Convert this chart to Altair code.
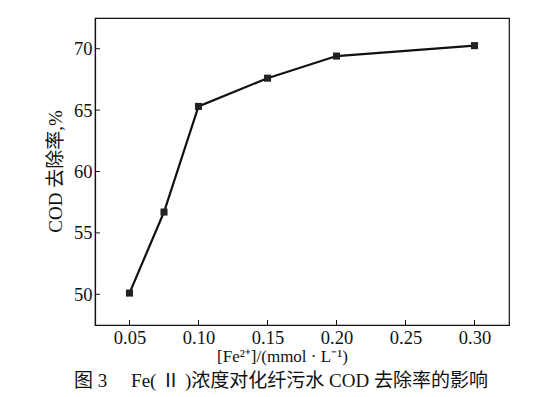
import altair as alt
import pandas as pd

conc = [0.05, 0.075, 0.10, 0.15, 0.20, 0.30]
cod_removal = [50.1, 56.7, 65.3, 67.6, 69.4, 70.25]
x_ticks = [0.05, 0.10, 0.15, 0.20, 0.25, 0.30]
y_ticks = [50, 55, 60, 65, 70]

FONT = "Liberation Serif, Times New Roman, Noto Sans CJK SC"

df = pd.DataFrame({"conc": conc, "cod": cod_removal})
dfx = pd.DataFrame({"t": x_ticks})
dfy = pd.DataFrame({"t": y_ticks})

W, H = 414, 307
xs = alt.Scale(domain=[0.025, 0.325], nice=False, zero=False)
ys = alt.Scale(domain=[47.5, 72.5], nice=False, zero=False)

line = alt.Chart(df).mark_line(color="#111", strokeWidth=2.2).encode(
    x=alt.X("conc:Q", scale=xs,
            axis=alt.Axis(values=x_ticks, format=".2f", title="[Fe²⁺]/(mmol · L⁻¹)",
                          titleX=187, titleY=31, titleBaseline="middle", titleFontSize=17)),
    y=alt.Y("cod:Q", scale=ys,
            axis=alt.Axis(values=y_ticks, format="d", title="COD 去除率,%",
                          titleX=-40, titleY=153, titleBaseline="middle", titleAlign="center",
                          titleFontSize=19)),
)
pts = alt.Chart(df).mark_point(shape="square", filled=True, color="#222", size=50, opacity=1).encode(
    x=alt.X("conc:Q", scale=xs), y=alt.Y("cod:Q", scale=ys)
)
xt = alt.Chart(dfx).mark_rule(color="#111", strokeWidth=1).encode(
    x=alt.X("t:Q", scale=xs), y=alt.value(H), y2=alt.value(H - 5)
)
yt = alt.Chart(dfy).mark_rule(color="#111", strokeWidth=1).encode(
    y=alt.Y("t:Q", scale=ys), x=alt.value(0), x2=alt.value(5)
)

chart = alt.layer(xt, yt, line, pts).properties(
    width=W, height=H,
    autosize=alt.AutoSizeParams(type="none"),
    padding={"left": 87, "top": 10, "right": 41, "bottom": 71},
    title=alt.TitleParams(text="图 3　 Fe( Ⅱ )浓度对化纤污水 COD 去除率的影响", orient="bottom",
                          anchor="middle", dx=-21, offset=8, font=FONT, fontSize=19,
                          fontWeight="normal", color="#111"),
).configure(background="white").configure_view(stroke="#111", strokeWidth=1.2).configure_axis(
    grid=False, ticks=False, tickSize=0, domainColor="#111", domainWidth=1.2,
    labelFont=FONT, labelFontSize=18.5, labelColor="#111", labelPadding=3,
    titleFont=FONT, titleFontWeight="normal", titleColor="#111",
)

chart.save("out.html", embed_options={"renderer": "svg", "actions": False})
